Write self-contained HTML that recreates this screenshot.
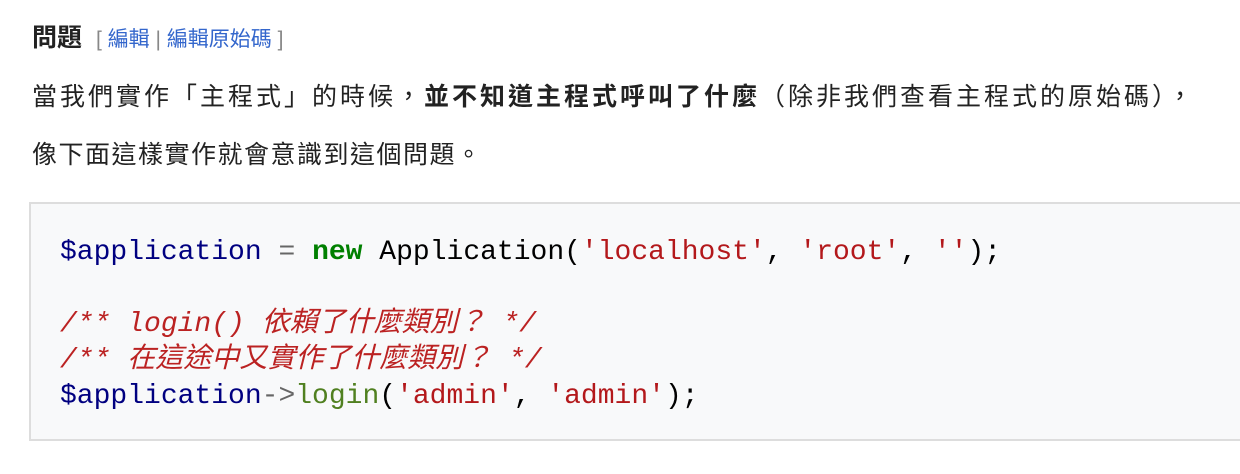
<!DOCTYPE html>
<html><head><meta charset="utf-8"><style>
body{margin:0;width:1240px;height:474px;background:#fff;overflow:hidden;font-family:"Liberation Sans","Noto Sans CJK TC",sans-serif;color:#222;}
.h{position:absolute;left:32px;top:22px;font-size:25px;font-weight:bold;line-height:32px;letter-spacing:0px}
.e{font-weight:normal;font-size:21px;color:#888;margin-left:14px}
.e a{color:#3366cc;text-decoration:none}
.p{position:absolute;left:32px;font-size:25px;letter-spacing:2px;line-height:32px;white-space:nowrap}
.box{position:absolute;left:29px;top:202px;width:1230px;height:239px;background:#f8f9fa;border:2px solid #ddd;box-sizing:border-box}
pre{position:absolute;left:60px;top:235px;margin:0;font-family:"Liberation Mono","Noto Sans CJK TC",monospace;font-size:28px;line-height:36px;color:#000}
.v{color:#000080}.k{color:#008000;font-weight:bold}.s{color:#b3181b}.c{color:#bb2222;font-style:italic}.f{color:#508020}.o{color:#666}
</style></head><body>
<div class="h">問題<span class="e">[ <a>編輯</a> | <a>編輯原始碼</a> ]</span></div>
<div class="p" style="top:81px;letter-spacing:3px">當我們實作「主程式」的時候，<b>並不知道主程式呼叫了什麼</b>（除非我們查看主程式的原始碼），</div>
<div class="p" style="top:139px;letter-spacing:1.5px">像下面這樣實作就會意識到這個問題。</div>
<div class="box"></div>
<pre><span class="v">$application</span> <span class="o">=</span> <span class="k">new</span> Application(<span class="s">'localhost'</span>, <span class="s">'root'</span>, <span class="s">''</span>);

<span class="c">/** login() 依賴了什麼類別？ */</span>
<span class="c">/** 在這途中又實作了什麼類別？ */</span>
<span class="v">$application</span><span class="o">-&gt;</span><span class="f">login</span>(<span class="s">'admin'</span>, <span class="s">'admin'</span>);</pre>
</body></html>
